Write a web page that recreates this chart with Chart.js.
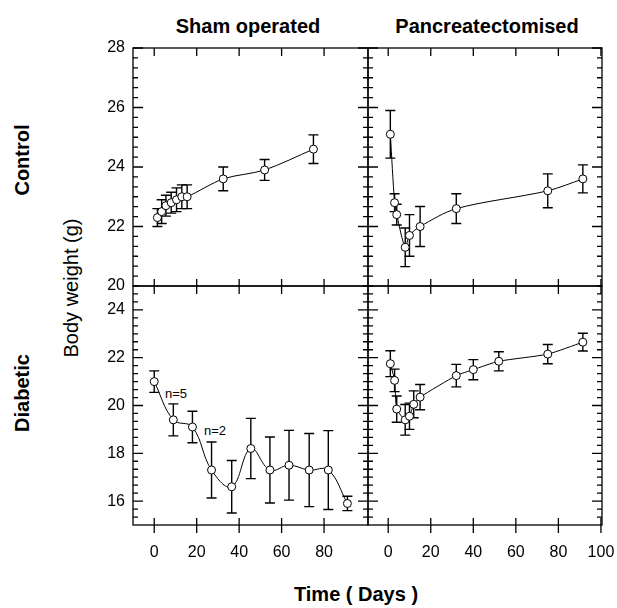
<!DOCTYPE html>
<html>
<head>
<meta charset="utf-8">
<script src="https://cdn.jsdelivr.net/npm/chart.js@4.4.0/dist/chart.umd.min.js"></script>
<style>
body { margin: 0; width: 617px; height: 608px; background: #fff; position: relative; overflow: hidden;
       font-family: "Liberation Sans", Arial, sans-serif; color: #000; }
canvas { position: absolute; left: 0; top: 0; }
.lbl { position: absolute; white-space: nowrap; transform: translate(-50%, -50%); }
.big { font-weight: bold; font-size: 20px; }
.rot { transform: translate(-50%, -50%) rotate(-90deg); }
.n { font-size: 13px; }
</style>
</head>
<body>
<div class="lbl big" style="left:248px;top:26px">Sham operated</div>
<div class="lbl big" style="left:487px;top:26px">Pancreatectomised</div>
<div class="lbl big rot" style="left:22px;top:160px">Control</div>
<div class="lbl big rot" style="left:22px;top:393px">Diabetic</div>
<div class="lbl rot" style="left:71px;top:288px;font-size:20px">Body weight (g)</div>
<div class="lbl big" style="left:356px;top:594px">Time ( Days )</div>
<div class="lbl n" style="left:176px;top:393px">n=5</div>
<div class="lbl n" style="left:215px;top:430px">n=2</div>

<canvas id="shamCtrl" width="617" height="608"></canvas>
<canvas id="pxCtrl" width="617" height="608"></canvas>
<canvas id="shamDiab" width="617" height="608"></canvas>
<canvas id="pxDiab" width="617" height="608"></canvas>

<script>
// tick labels
const xTicksSham = [0, 20, 40, 60, 80];
const xTicksPx = [0, 20, 40, 60, 80, 100];
const yTicksCtrl = [20, 22, 24, 26, 28];
const yTicksDiab = [16, 18, 20, 22, 24];

// Sham operated - control
const shamCtrlDays = [1.5, 3.5, 5.5, 8, 10.5, 13, 15.5, 32.5, 52, 75];
const shamCtrlMean = [22.3, 22.5, 22.7, 22.8, 22.9, 23.0, 23.0, 23.6, 23.9, 24.6];
const shamCtrlErr = [0.3, 0.4, 0.35, 0.35, 0.4, 0.4, 0.4, 0.4, 0.35, 0.48];

// Pancreatectomised - control
const pxCtrlDays = [1, 3, 4, 8, 10, 15, 32, 75, 91.5];
const pxCtrlMean = [25.1, 22.8, 22.4, 21.3, 21.7, 22.0, 22.6, 23.2, 23.6];
const pxCtrlErr = [0.8, 0.3, 0.35, 0.65, 0.7, 0.67, 0.5, 0.57, 0.47];

// Sham operated - diabetic
const shamDiabDays = [0, 9, 18, 27, 36.5, 45.5, 54.5, 63.5, 73, 82, 91];
const shamDiabMean = [21.0, 19.4, 19.1, 17.3, 16.6, 18.2, 17.3, 17.5, 17.3, 17.3, 15.9];
const shamDiabErr = [0.45, 0.67, 0.66, 1.17, 1.1, 1.26, 1.38, 1.46, 1.53, 1.65, 0.3];

// Pancreatectomised - diabetic
const pxDiabDays = [1, 3, 4, 8, 10, 12, 15, 32, 40, 52, 75, 91.5];
const pxDiabMean = [21.75, 21.05, 19.85, 19.4, 19.55, 20.05, 20.35, 21.25, 21.5, 21.85, 22.15, 22.65];
const pxDiabErr = [0.54, 0.47, 0.55, 0.64, 0.55, 0.56, 0.53, 0.47, 0.42, 0.4, 0.4, 0.37];

Chart.defaults.font.family = "'Liberation Sans', Arial, sans-serif";
Chart.defaults.font.size = 16;
Chart.defaults.color = '#000';

// error bars + frame with inward ticks
function framePlugin(days, mean, err, xTicks, yTicks, outerBottom) {
    return {
        id: 'frame',
        beforeDatasetsDraw(chart) {
            const ctx = chart.ctx, xs = chart.scales.x, ys = chart.scales.y;
            ctx.save();
            ctx.strokeStyle = '#000';
            ctx.lineWidth = 1.4;
            days.forEach((d, i) => {
                const x = xs.getPixelForValue(d);
                const lo = ys.getPixelForValue(mean[i] - err[i]);
                const hi = ys.getPixelForValue(mean[i] + err[i]);
                ctx.beginPath();
                ctx.moveTo(x, lo); ctx.lineTo(x, hi);
                ctx.moveTo(x - 5, lo); ctx.lineTo(x + 5, lo);
                ctx.moveTo(x - 5, hi); ctx.lineTo(x + 5, hi);
                ctx.stroke();
            });
            ctx.restore();
        },
        afterDraw(chart) {
            const ctx = chart.ctx, a = chart.chartArea, xs = chart.scales.x, ys = chart.scales.y;
            ctx.save();
            ctx.strokeStyle = '#000';
            ctx.lineWidth = 1.3;
            ctx.strokeRect(a.left, a.top, a.right - a.left, a.bottom - a.top);
            ctx.beginPath();
            xTicks.forEach(v => {
                const x = xs.getPixelForValue(v);
                ctx.moveTo(x, a.top); ctx.lineTo(x, a.top + 8);
                ctx.moveTo(x, a.bottom - 7); ctx.lineTo(x, a.bottom + (outerBottom ? 8 : 0));
            });
            const step = (yTicks[1] - yTicks[0]) / 6;
            for (let v = yTicks[0] - 6 * step; v <= ys.max + 1e-6; v += step) {
                if (v <= ys.min + 1e-6) continue;
                const major = yTicks.some(t => Math.abs(t - v) < 1e-6);
                const len = major ? 10 : 5;
                const y = ys.getPixelForValue(v);
                ctx.moveTo(a.left, y); ctx.lineTo(a.left + len, y);
                ctx.moveTo(a.right, y); ctx.lineTo(a.right - len, y);
            }
            ctx.stroke();
            ctx.restore();
        }
    };
}

function makePanel(id, area, xMin, xMax, yMin, yMax, xTicks, yTicks, showX, showY, days, mean, err, tension, dashed) {
    const pts = days.map((d, i) => ({ x: d, y: mean[i] }));
    const datasets = [{
        data: pts,
        borderColor: '#000',
        borderWidth: 1,
        tension: tension,
        pointRadius: 4,
        pointBackgroundColor: '#fff',
        pointBorderColor: '#000',
        pointBorderWidth: 1
    }];
    if (dashed) {
        datasets.push({
            data: pts,
            showLine: false,
            pointStyle: 'line',
            pointRadius: 2,
            pointBorderColor: '#000',
            pointBorderWidth: 1
        });
    }
    new Chart(document.getElementById(id), {
        type: 'line',
        data: { datasets: datasets },
        options: {
            responsive: false,
            animation: false,
            layout: {
                padding: {
                    left: showY ? area.left - 70 : area.left,
                    top: area.top,
                    right: 617 - area.right,
                    bottom: showX ? 608 - area.bottom - 50 : 608 - area.bottom
                }
            },
            scales: {
                x: {
                    type: 'linear', min: xMin, max: xMax, display: showX,
                    grid: { display: false, drawTicks: false }, border: { display: false },
                    ticks: { padding: 18, maxRotation: 0 },
                    afterBuildTicks: s => { s.ticks = xTicks.map(v => ({ value: v })); },
                    afterFit: s => {
                        if (showX) s.height = 50;
                        s.paddingLeft = 0; s.paddingRight = 0;
                    }
                },
                y: {
                    type: 'linear', min: yMin, max: yMax, display: showY,
                    grid: { display: false, drawTicks: false }, border: { display: false },
                    ticks: { padding: 8 },
                    afterBuildTicks: s => { s.ticks = yTicks.map(v => ({ value: v })); },
                    afterFit: s => {
                        if (showY) s.width = 70;
                        s.paddingTop = 0; s.paddingBottom = 0;
                    }
                }
            },
            plugins: { legend: { display: false }, tooltip: { enabled: false } }
        },
        plugins: [framePlugin(days, mean, err, xTicks, yTicks, showX)]
    });
}

makePanel('shamCtrl', { left: 133, top: 48, right: 368, bottom: 286 }, -10, 100.7, 20, 28,
    xTicksSham, yTicksCtrl, false, true, shamCtrlDays, shamCtrlMean, shamCtrlErr, 0.3, false);
makePanel('pxCtrl', { left: 368, top: 48, right: 602, bottom: 286 }, -9.5, 100.5, 20, 28,
    xTicksPx, yTicksCtrl, false, false, pxCtrlDays, pxCtrlMean, pxCtrlErr, 0.3, false);
makePanel('shamDiab', { left: 133, top: 286, right: 368, bottom: 525 }, -10, 100.7, 15, 25,
    xTicksSham, yTicksDiab, true, true, shamDiabDays, shamDiabMean, shamDiabErr, 0.4, true);
makePanel('pxDiab', { left: 368, top: 286, right: 602, bottom: 525 }, -9.5, 100.5, 15, 25,
    xTicksPx, yTicksDiab, true, false, pxDiabDays, pxDiabMean, pxDiabErr, 0.2, false);
</script>
</body>
</html>
